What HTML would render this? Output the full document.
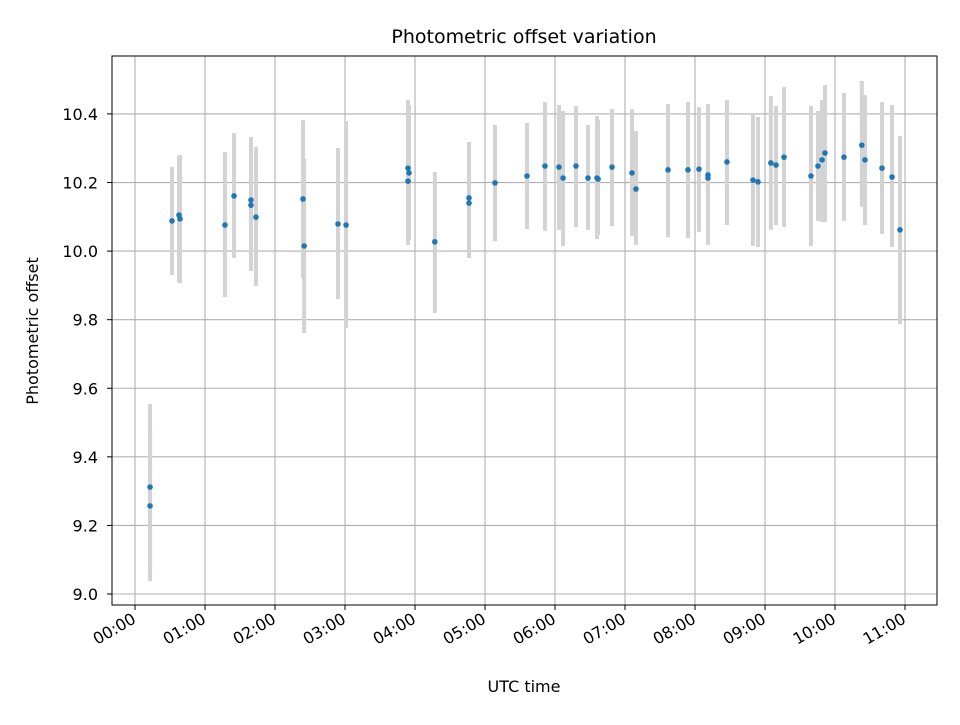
<!DOCTYPE html>
<html><head><meta charset="utf-8"><style>
body{margin:0;background:#fff}
svg text{font-family:"DejaVu Sans","Liberation Sans",sans-serif;fill:#000}
</style></head><body>
<svg id="c" width="960" height="720" xmlns="http://www.w3.org/2000/svg">
<rect width="960" height="720" fill="#fff"/>
<text x="524" y="43" font-size="19" text-anchor="middle">Photometric offset variation</text>
<text x="524" y="692" font-size="16" text-anchor="middle">UTC time</text>
<text transform="translate(38,331) rotate(-90)" font-size="16" text-anchor="middle">Photometric offset</text>
</svg>
<script>
const times=[12.9,12.9,31.7,37.7,38.6,77.1,84.9,99.4,99.4,103.7,144,145,174,180.9,234,234.9,234,257,286.3,286.3,308.6,336,351.4,363.4,366.9,378,388.3,396,396.9,408.9,426,429.4,456.9,474,483.4,491.1,491.1,507.4,529.7,534,545,549.4,556.3,579.4,585.4,588.9,591.4,607.7,623,625.7,640.3,648.9,655.7];
const values=[9.312,9.257,10.088,10.105,10.094,10.076,10.161,10.149,10.134,10.099,10.152,10.015,10.079,10.076,10.242,10.228,10.204,10.027,10.155,10.140,10.199,10.219,10.248,10.245,10.213,10.248,10.213,10.213,10.210,10.245,10.228,10.181,10.237,10.237,10.239,10.222,10.213,10.260,10.207,10.202,10.257,10.251,10.274,10.219,10.248,10.266,10.286,10.274,10.309,10.266,10.242,10.216,10.062];
const errLow=[9.070,9.038,9.930,9.910,9.907,9.866,9.980,9.942,9.945,9.898,9.922,9.761,9.860,9.776,10.021,10.032,10.018,9.820,9.989,9.980,10.029,10.064,10.059,10.062,10.015,10.070,10.062,10.035,10.047,10.073,10.044,10.018,10.041,10.038,10.056,10.018,10.030,10.076,10.015,10.012,10.062,10.076,10.070,10.015,10.088,10.085,10.085,10.088,10.129,10.076,10.050,10.012,9.787];
const errHigh=[9.554,9.478,10.245,10.277,10.280,10.289,10.344,10.333,10.318,10.304,10.382,10.269,10.301,10.379,10.441,10.426,10.411,10.231,10.318,10.309,10.368,10.374,10.435,10.426,10.409,10.423,10.368,10.394,10.382,10.414,10.414,10.350,10.429,10.435,10.420,10.429,10.429,10.441,10.403,10.391,10.452,10.423,10.479,10.423,10.409,10.441,10.484,10.461,10.496,10.455,10.435,10.426,10.336];
const yTicks=[9.0,9.2,9.4,9.6,9.8,10.0,10.2,10.4];
const xTickLabels=["00:00","01:00","02:00","03:00","04:00","05:00","06:00","07:00","08:00","09:00","10:00","11:00"];
const NS="http://www.w3.org/2000/svg";
const svg=document.getElementById('c');
const L=112,R=937,T=56,B=605;
const xs=m=>135+m*70/60;
const ys=v=>594-(v-9)*342.9;
function mk(t,a){const e=document.createElementNS(NS,t);for(const k in a)e.setAttribute(k,a[k]);svg.appendChild(e);return e;}
yTicks.forEach(v=>{const y=ys(v);
 const g=mk('line',{x1:L,x2:R,y1:y,y2:y,stroke:'#b0b0b0','stroke-width':1.1});
 
 
 const tk=mk('line',{x1:L-5,x2:L,y1:y,y2:y,stroke:'#000','stroke-width':1});
 
 
 const t=mk('text',{x:L-14,y:y+6,'font-size':16,'text-anchor':'end'});t.textContent=v.toFixed(1);
 
 
});
xTickLabels.forEach((lab,i)=>{const x=xs(i*60);
 const g=mk('line',{x1:x,x2:x,y1:T,y2:B,stroke:'#b0b0b0','stroke-width':1.1});
 
 
 const tk=mk('line',{x1:x,x2:x,y1:B,y2:B+5,stroke:'#000','stroke-width':1});
 
 
 const t=mk('text',{transform:`translate(${x+2},${B+17}) rotate(-30)`,'font-size':16,'text-anchor':'end'});t.textContent=lab;
 
 
});
times.forEach((m,i)=>{const x=xs(m);
 const e=mk('line',{x1:x,x2:x,y1:ys(errHigh[i]),y2:ys(errLow[i]),stroke:'#d3d3d3','stroke-width':4});
 
 
});
times.forEach((m,i)=>{
 const p=mk('circle',{cx:xs(m),cy:ys(values[i]),r:2.8,fill:'#1f77b4'});
 
 
});
const fr=mk('rect',{x:L,y:T,width:R-L,height:B-T,fill:'none',stroke:'#000','stroke-width':1});


</script>
</body></html>
